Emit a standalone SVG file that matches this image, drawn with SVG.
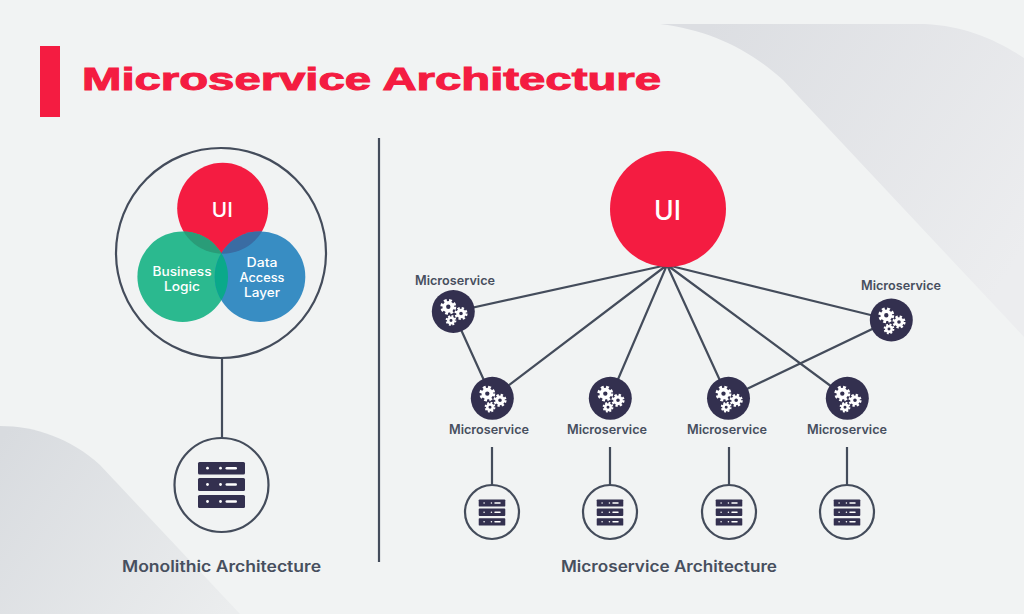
<svg xmlns="http://www.w3.org/2000/svg" xmlns:xlink="http://www.w3.org/1999/xlink" width="1024" height="614" viewBox="0 0 1024 614">
<style>
.ln{stroke:#444c5b;stroke-width:2.2;fill:none}
.rg{stroke:#444c5b;stroke-width:2.2;fill:#f1f3f3}
.dk{fill:#33304f}
.lb{font-family:"Inter","Open Sans",sans-serif;font-weight:600;font-size:12.5px;fill:#474f5e;text-anchor:middle}
.cap{font-family:"Inter","Open Sans",sans-serif;font-weight:600;font-size:15.5px;fill:#474f5e;text-anchor:middle}
.w{font-family:"Inter","Open Sans",sans-serif;font-weight:500;fill:#fff;text-anchor:middle}
</style>
<defs>
<linearGradient id="g1" gradientUnits="userSpaceOnUse" x1="700" y1="40" x2="1024" y2="250"><stop offset="0" stop-color="#dcdee2"/><stop offset="1" stop-color="#ecedef"/></linearGradient>
<linearGradient id="g2" gradientUnits="userSpaceOnUse" x1="0" y1="440" x2="230" y2="610"><stop offset="0" stop-color="#d8dbdf"/><stop offset="1" stop-color="#ebedee"/></linearGradient>
<clipPath id="cR"><circle cx="222.7" cy="208.3" r="45.5"/></clipPath>
<clipPath id="cG"><circle cx="182.7" cy="276.7" r="45.3"/></clipPath>
<g id="gear"><circle r="3.5" fill="none" stroke="#fff" stroke-width="3.2"/><circle r="5.6" fill="none" stroke="#fff" stroke-width="2.6" stroke-dasharray="2.4 2"/></g>
<g id="gears"><use xlink:href="#gear" transform="translate(-5 -4.7) scale(1.15)"/><use xlink:href="#gear" transform="translate(7.7 2) scale(.95)"/><use xlink:href="#gear" transform="translate(-2.3 8.9) scale(.78)"/></g>
<g id="srv">
<rect x="-23.5" y="-23" width="47" height="12.5" rx="1.5" class="dk"/><rect x="-23.5" y="-7" width="47" height="13" rx="1.5" class="dk"/><rect x="-23.5" y="10" width="47" height="13" rx="1.5" class="dk"/>
<g fill="#fff"><circle cx="-14" cy="-16.8" r="1.4"/><circle cx="-1" cy="-16.8" r="1.4"/><rect x="4" y="-18" width="11.5" height="2.6" rx="1.3"/><circle cx="-14" cy="-.5" r="1.4"/><circle cx="-1" cy="-.5" r="1.4"/><rect x="4" y="-1.8" width="11.5" height="2.6" rx="1.3"/><circle cx="-14" cy="16.5" r="1.4"/><circle cx="-1" cy="16.5" r="1.4"/><rect x="4" y="15.2" width="11.5" height="2.6" rx="1.3"/></g>
</g>
</defs>
<rect width="1024" height="614" fill="#f1f3f3"/>
<path d="M660 24 H925 C965 26 997 40 1024 58 V337 L783 80 C750 50 710 30 660 24 Z" fill="url(#g1)"/>
<path d="M0 426 C35 426 70 438 100 465 L240 614 H0 Z" fill="url(#g2)"/>
<g id="title">
<rect x="40" y="46" width="20" height="71" fill="#f41c41"/>
<text x="82" y="90" font-family="'Liberation Sans',Arial,sans-serif" font-weight="700" font-size="31" fill="#f41c41" stroke="#f41c41" stroke-width="1" textLength="579" lengthAdjust="spacingAndGlyphs">Microservice Architecture</text>
</g>
<g id="connectors">
<line class="ln" x1="379" y1="138" x2="379" y2="562"/>
<line class="ln" x1="222" y1="357" x2="222" y2="438"/>
<path class="ln" d="M667 265 L453 312 L492 398 L667 265 L610 398 M667 265 L728 398 L891 320 L667 265 L847 398"/>
<path class="ln" d="M492 447 V486 M610 447 V486 M729 447 V486 M847 447 V486"/>
</g>
<g id="mono">
<circle cx="221" cy="253" r="105" class="ln"/>
<circle cx="222.7" cy="208.3" r="45.5" fill="#f41c41"/>
<circle cx="182.7" cy="276.7" r="45.3" fill="#2bb98f"/>
<circle cx="260" cy="276.7" r="45.3" fill="#388dc3"/>
<circle cx="182.7" cy="276.7" r="45.3" fill="#2a9c78" clip-path="url(#cR)"/>
<circle cx="260" cy="276.7" r="45.3" fill="#3a6ca3" clip-path="url(#cR)"/>
<circle cx="260" cy="276.7" r="45.3" fill="#0aa98a" clip-path="url(#cG)"/>
<text class="w" x="222.3" y="216.7" font-size="20.6" textLength="21" lengthAdjust="spacingAndGlyphs">UI</text>
<text class="w" x="182" y="276" font-size="12.5" textLength="59" lengthAdjust="spacingAndGlyphs">Business</text>
<text class="w" x="182" y="291" font-size="12.5" textLength="36" lengthAdjust="spacingAndGlyphs">Logic</text>
<text class="w" x="262" y="267" font-size="12.5" textLength="31" lengthAdjust="spacingAndGlyphs">Data</text>
<text class="w" x="262" y="282" font-size="12.5" textLength="45" lengthAdjust="spacingAndGlyphs">Access</text>
<text class="w" x="262" y="297" font-size="12.5" textLength="36" lengthAdjust="spacingAndGlyphs">Layer</text>
</g>
<g id="mono-server"><circle cx="221.5" cy="485" r="47" class="rg"/><use xlink:href="#srv" transform="translate(221.5 485)"/></g>
<text class="cap" x="221.5" y="572" textLength="199" lengthAdjust="spacingAndGlyphs">Monolithic Architecture</text>
<g id="ui"><circle cx="668" cy="209" r="58" fill="#f41c41"/><text class="w" x="667.5" y="220" font-size="27.5" textLength="27" lengthAdjust="spacingAndGlyphs">UI</text></g>
<g id="ms1"><circle cx="453.3" cy="311.5" r="21.5" class="dk"/><use xlink:href="#gears" transform="translate(453.3 311.5)"/><text class="lb" x="455" y="285" textLength="80" lengthAdjust="spacingAndGlyphs">Microservice</text></g>
<g id="ms2"><circle cx="492.3" cy="398.3" r="21.5" class="dk"/><use xlink:href="#gears" transform="translate(492.3 398.3)"/><text class="lb" x="489" y="434" textLength="80" lengthAdjust="spacingAndGlyphs">Microservice</text></g>
<g id="ms3"><circle cx="610.3" cy="398.3" r="21.5" class="dk"/><use xlink:href="#gears" transform="translate(610.3 398.3)"/><text class="lb" x="607" y="434" textLength="80" lengthAdjust="spacingAndGlyphs">Microservice</text></g>
<g id="ms4"><circle cx="728.5" cy="398.3" r="21.5" class="dk"/><use xlink:href="#gears" transform="translate(728.5 398.3)"/><text class="lb" x="727" y="434" textLength="80" lengthAdjust="spacingAndGlyphs">Microservice</text></g>
<g id="ms5"><circle cx="847.3" cy="398.3" r="21.5" class="dk"/><use xlink:href="#gears" transform="translate(847.3 398.3)"/><text class="lb" x="847" y="434" textLength="80" lengthAdjust="spacingAndGlyphs">Microservice</text></g>
<g id="ms6"><circle cx="891.3" cy="320" r="21.5" class="dk"/><use xlink:href="#gears" transform="translate(891.3 320)"/><text class="lb" x="901" y="290" textLength="80" lengthAdjust="spacingAndGlyphs">Microservice</text></g>
<g id="srv1"><circle cx="492" cy="512" r="27" class="rg"/><use xlink:href="#srv" transform="translate(492 512.5) scale(.565)"/></g>
<g id="srv2"><circle cx="610" cy="512" r="27" class="rg"/><use xlink:href="#srv" transform="translate(610 512.5) scale(.565)"/></g>
<g id="srv3"><circle cx="729" cy="512" r="27" class="rg"/><use xlink:href="#srv" transform="translate(729 512.5) scale(.565)"/></g>
<g id="srv4"><circle cx="847" cy="512" r="27" class="rg"/><use xlink:href="#srv" transform="translate(847 512.5) scale(.565)"/></g>
<text class="cap" x="669" y="572" textLength="216" lengthAdjust="spacingAndGlyphs">Microservice Architecture</text>
</svg>
